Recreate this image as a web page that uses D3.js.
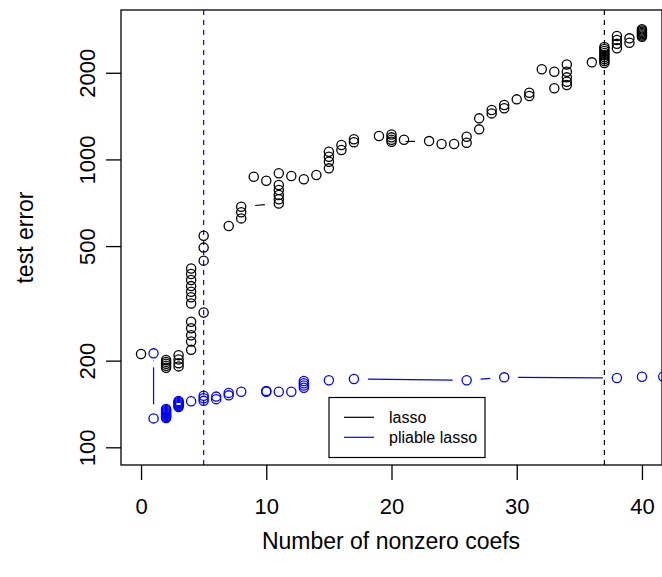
<!DOCTYPE html>
<html><head><meta charset="utf-8">
<script src="https://cdn.jsdelivr.net/npm/d3@7"></script>
<style>body{margin:0;background:#fff} svg{display:block}</style>
</head><body>
<svg id="chart" width="662" height="577"></svg>
<script>
// ---- data (path order matters: lines are drawn R type="b" style) ----
const lassoX = [0, 2,2,2,2,2, 3,3,3,3, 4,4,4,4,4, 5, 4,4,4,4,4,4,4, 5,5,5, 7, 8,8,8,
  11,11,11,11,11,11, 9, 10, 12, 13, 14, 15,15,15,15, 16,16, 17,17, 19, 20, 21, 20,20,20,
  23, 24, 25, 26,26, 27,27, 28,28, 29,29, 30, 31,31, 33, 32, 33, 34,34,34,34,34, 36,
  37,37,37,37,37,37,37,37,37, 38,38,38,38, 39,39, 40,40,40,40,40,40,40];
const lassoY = [211, 189,192,195,198,201, 191,196,202,209, 218,233,245,259,273, 294, 316,332,347,363,381,400,418, 445,494,543, 587, 624,655,685,
  703,727,752,783,815,895, 871, 843, 876, 853, 883, 931,982,1022,1063, 1078,1122, 1147,1175, 1206, 1221, 1170, 1193,1170,1152,
  1158, 1131, 1131, 1143,1199, 1272,1389, 1445,1485, 1506,1545, 1617, 1661,1705, 1766, 2056, 2016, 1813,1862,1928,2016,2138, 2174,
  2162,2197,2232,2269,2305,2342,2380,2418,2457, 2432,2520,2600,2683, 2543,2634, 2668,2694,2722,2748,2777,2804,2831];

const pliableX = [1, 1, 2,2,2,2,2,2,2,2,2,2, 3,3,3,3,3,3,3, 4, 5,5,5, 6,6, 7,7, 8, 10,10, 11, 12, 13,13,13,13, 15, 17, 26, 29, 38, 40, 41.7];
const pliableY = [212, 126, 126.4,127.4,128.4,129.5,130.5,131.6,132.6,133.7,134.8,135.8, 138,139.2,140.3,141.4,142.5,143.7,144.8, 144.5, 145,148,151, 147,150, 151.5,154.5, 156, 157,156, 156, 156, 161,164,167,170, 171, 172.6, 171, 175, 174, 175.9, 176];

const xTicks = [0, 10, 20, 30, 40];
const yTicks = [100, 200, 500, 1000, 2000];
const vlineBlueX = 5;
const vlineBlackX = 37;
const legendLabels = ["lasso", "pliable lasso"];
const seriesColors = ["#000000", "#0000ff"];
const xTitle = "Number of nonzero coefs";
const yTitle = "test error";

// ---- layout ----
const W = 662, H = 577;
const L = 121, R = 662, T = 10, B = 465;
const svg = d3.select("#chart");
const font = "'Liberation Sans', Arial, Helvetica, sans-serif";

const x = d3.scaleLinear().domain([-1.6, 41.6]).range([L, R]);
const y = d3.scaleLog().domain([86.8, 3304]).range([B, T]);

svg.append("defs").append("clipPath").attr("id", "clip")
  .append("rect").attr("x", L).attr("y", T).attr("width", R - L).attr("height", B - T);

const plot = svg.append("g").attr("clip-path", "url(#clip)");

// reference lines
[[vlineBlueX, "#0000ff"], [vlineBlackX, "#000000"]].forEach(([v, c]) => {
  plot.append("line").attr("x1", x(v)).attr("x2", x(v)).attr("y1", T).attr("y2", B)
    .attr("stroke", c).attr("stroke-width", 1.2).attr("stroke-dasharray", "5,5");
});

const GAP = 14;
function drawSeries(xs, ys, color) {
  const pts = xs.map((d, i) => [x(d), y(ys[i])]);
  const g = plot.append("g");
  for (let i = 1; i < pts.length; i++) {
    const [x0, y0] = pts[i - 1], [x1, y1] = pts[i];
    const dx = x1 - x0, dy = y1 - y0, d = Math.hypot(dx, dy);
    if (d > 2 * GAP) {
      const f = GAP / d;
      g.append("line").attr("x1", x0 + f * dx).attr("y1", y0 + f * dy)
        .attr("x2", x1 - f * dx).attr("y2", y1 - f * dy)
        .attr("stroke", color).attr("stroke-width", 1.2);
    }
  }
  g.selectAll("circle").data(pts).join("circle")
    .attr("cx", d => d[0]).attr("cy", d => d[1]).attr("r", 4.6)
    .attr("fill", "none").attr("stroke", color).attr("stroke-width", 1.3);
}
drawSeries(lassoX, lassoY, seriesColors[0]);
drawSeries(pliableX, pliableY, seriesColors[1]);

// frame
svg.append("rect").attr("x", L).attr("y", T).attr("width", R - L).attr("height", B - T)
  .attr("fill", "none").attr("stroke", "#000").attr("stroke-width", 1.3);

// x axis
const xAxis = svg.append("g").attr("transform", `translate(0,${B})`)
  .call(d3.axisBottom(x).tickValues(xTicks).tickSize(15).tickFormat(d3.format("d")));
xAxis.select(".domain").remove();
xAxis.selectAll("line").attr("stroke", "#000").attr("stroke-width", 1.3);
xAxis.selectAll("text").attr("font-family", font).attr("font-size", 22).attr("fill", "#000")
  .attr("y", 41).attr("dy", "0.35em");

// y axis
const yAxis = svg.append("g").attr("transform", `translate(${L},0)`)
  .call(d3.axisLeft(y).tickValues(yTicks).tickSize(15).tickFormat(d3.format("d")));
yAxis.select(".domain").remove();
yAxis.selectAll("line").attr("stroke", "#000").attr("stroke-width", 1.3);
yAxis.selectAll("text").attr("font-family", font).attr("font-size", 22).attr("fill", "#000")
  .attr("transform", "rotate(-90)").attr("x", 0).attr("y", -34)
  .attr("dy", "0.35em").attr("text-anchor", "middle");

// titles
svg.append("text").attr("x", 391).attr("y", 541).attr("dy", "0.35em").attr("text-anchor", "middle")
  .attr("font-family", font).attr("font-size", 23).text(xTitle);
svg.append("text").attr("transform", `translate(25,${(T + B) / 2}) rotate(-90)`)
  .attr("dy", "0.35em").attr("text-anchor", "middle").attr("font-family", font).attr("font-size", 23).text(yTitle);

// legend
const lg = svg.append("g");
lg.append("rect").attr("x", 329).attr("y", 397.5).attr("width", 156).attr("height", 60)
  .attr("fill", "#fff").attr("stroke", "#000").attr("stroke-width", 1.2);
legendLabels.forEach((lab, i) => {
  const yy = 417.3 + i * 20;
  lg.append("line").attr("x1", 344).attr("x2", 374).attr("y1", yy).attr("y2", yy)
    .attr("stroke", seriesColors[i]).attr("stroke-width", 1.2);
  lg.append("text").attr("x", 389).attr("y", yy).attr("dy", "0.35em")
    .attr("font-family", font).attr("font-size", 16).text(lab);
});
</script>
</body></html>
